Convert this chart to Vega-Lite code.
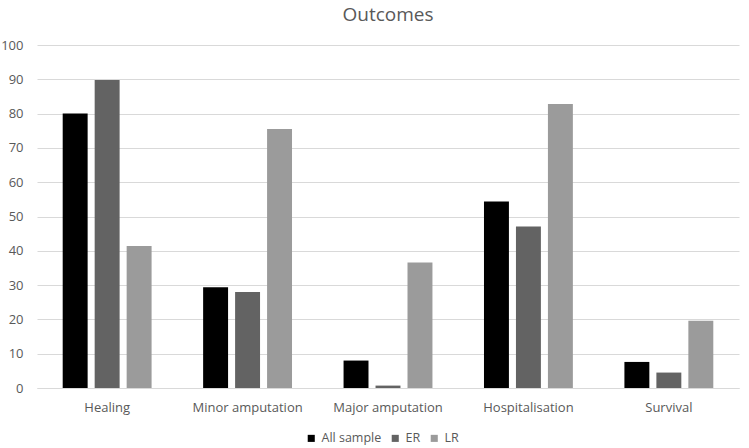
{
  "$schema": "https://vega.github.io/schema/vega-lite/v6.json",
  "width": 702,
  "height": 343,
  "autosize": "none",
  "padding": {"left": 37, "top": 45, "right": 10, "bottom": 60},
  "background": "white",
  "title": {"text": "Outcomes", "fontSize": 19, "font": "Open Sans", "fontWeight": "normal", "color": "#595959", "anchor": "middle", "offset": 12, "baseline": "bottom", "dy": 17},
  "data": {"values": [
    {"outcome": "Healing", "group": "All sample", "value": 80},
    {"outcome": "Healing", "group": "ER", "value": 89.8},
    {"outcome": "Healing", "group": "LR", "value": 41.4},
    {"outcome": "Minor amputation", "group": "All sample", "value": 29.4},
    {"outcome": "Minor amputation", "group": "ER", "value": 28.0},
    {"outcome": "Minor amputation", "group": "LR", "value": 75.5},
    {"outcome": "Major amputation", "group": "All sample", "value": 8.0},
    {"outcome": "Major amputation", "group": "ER", "value": 0.7},
    {"outcome": "Major amputation", "group": "LR", "value": 36.6},
    {"outcome": "Hospitalisation", "group": "All sample", "value": 54.4},
    {"outcome": "Hospitalisation", "group": "ER", "value": 47.1},
    {"outcome": "Hospitalisation", "group": "LR", "value": 82.8},
    {"outcome": "Survival", "group": "All sample", "value": 7.6},
    {"outcome": "Survival", "group": "ER", "value": 4.5},
    {"outcome": "Survival", "group": "LR", "value": 19.6}
  ]},
  "mark": {"type": "bar"},
  "encoding": {
    "x": {"field": "outcome", "type": "nominal", "sort": null,
      "scale": {"paddingInner": 0.367, "paddingOuter": 0.183},
      "axis": {"title": null, "labelAngle": 0, "labelFont": "Open Sans", "labelFontSize": 13, "labelColor": "#595959", "ticks": false, "domain": true, "domainColor": "#d9d9d9", "labelPadding": 13}},
    "xOffset": {"field": "group", "type": "nominal", "scale": {"paddingInner": 0.22, "paddingOuter": 0}},
    "y": {"field": "value", "type": "quantitative",
      "scale": {"domain": [0, 100], "nice": false},
      "axis": {"title": null, "values": [0,10,20,30,40,50,60,70,80,90,100], "labelFont": "Open Sans", "labelFontSize": 13, "labelColor": "#595959", "ticks": false, "domain": false, "gridColor": "#d9d9d9", "gridWidth": 1, "labelPadding": 14}},
    "color": {"field": "group", "type": "nominal",
      "scale": {"domain": ["All sample", "ER", "LR"], "range": ["#000000", "#636363", "#9b9b9b"]},
      "legend": {"title": null, "orient": "none", "direction": "horizontal", "legendX": 268, "legendY": 387, "symbolType": "square", "symbolSize": 50, "symbolStrokeWidth": 0, "labelFont": "Open Sans", "labelFontSize": 12.5, "labelColor": "#595959", "columnPadding": 7, "symbolOffset": 0, "labelOffset": 4}}
  },
  "config": {"view": {"stroke": null}}
}
